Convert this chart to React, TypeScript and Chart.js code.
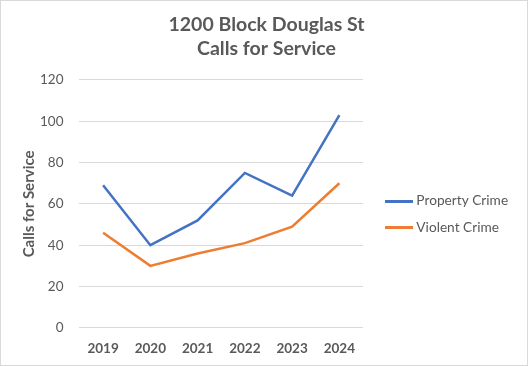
import React, { useEffect, useRef } from "react";
import { Chart, registerables } from "chart.js";

Chart.register(...registerables);

const categories = ["2019", "2020", "2021", "2022", "2023", "2024"];
const propertyCrime = [69, 40, 52, 75, 64, 103];
const violentCrime = [46, 30, 36, 41, 49, 70];
const titleLines = ["1200 Block Douglas St", "Calls for Service"];
const yTitle = "Calls for Service";

const FONT = "Lato, 'Open Sans', sans-serif";
const TEXT = "#595959";
const LEGEND_PAD = 13;
const LEGEND_FONT = 13.7;
const LEGEND_W = 150;
const BOX_W = 21;
const SAMPLE_W = 28;

function lineSample(color: string) {
  const c = document.createElement("canvas");
  c.width = SAMPLE_W;
  c.height = 3;
  const g = c.getContext("2d")!;
  g.fillStyle = color;
  g.fillRect(0, 0, SAMPLE_W, 3);
  return c;
}

// give the legend a fixed width and set it beside the plot as in the original
const legendPlace = {
  id: "legendPlace",
  beforeLayout(chart: any) {
    const lg = chart.legend;
    if (lg && !lg.__patched) {
      const orig = lg.fit;
      lg.fit = function (this: any) {
        this.maxWidth = 1000;
        orig.call(this);
        this.width = LEGEND_W;
      };
      lg.__patched = true;
    }
  },
  afterUpdate(chart: any) {
    const lg = chart.legend;
    if (!lg) return;
    const colH = lg.columnSizes && lg.columnSizes[0] ? lg.columnSizes[0].height : 54;
    const start = (lg.top + LEGEND_PAD + (lg.bottom - colH)) / 2;
    const dy = 201 - LEGEND_FONT / 2 - start;
    lg.top += dy;
    lg.bottom += dy;
    const itemX = 385 + (SAMPLE_W - BOX_W) / 2;
    const dx = itemX - LEGEND_PAD - lg.left;
    lg.left += dx;
    lg.right += dx;
  },
};

export default function App() {
  const ref = useRef<HTMLCanvasElement | null>(null);
  useEffect(() => {
    document.body.style.margin = "0";
    let chart: Chart | null = null;
    let cancelled = false;
    const make = () => {
      if (cancelled || !ref.current) return;
      chart = new Chart(ref.current, {
        type: "line",
        data: {
          labels: categories,
          datasets: [
            {
              label: "Property Crime",
              data: propertyCrime,
              borderColor: "#4472C4",
              backgroundColor: "#4472C4",
              borderWidth: 2.5,
              pointRadius: 0,
              tension: 0,
            },
            {
              label: "Violent Crime",
              data: violentCrime,
              borderColor: "#ED7D31",
              backgroundColor: "#ED7D31",
              borderWidth: 2.5,
              pointRadius: 0,
              tension: 0,
            },
          ],
        },
        options: {
          animation: false,
          responsive: false,
          layout: { padding: { left: 20, right: 15, top: 13, bottom: 4 } },
          plugins: {
            title: {
              display: true,
              text: titleLines,
              color: TEXT,
              font: { family: FONT, size: 19.5, weight: "bold", lineHeight: 1.22 },
              padding: { top: 0, bottom: 19.4 },
            },
            legend: {
              position: "right",
              align: "center",
              labels: {
                color: TEXT,
                font: { family: FONT, size: LEGEND_FONT },
                usePointStyle: true,
                pointStyleWidth: BOX_W,
                boxHeight: 3,
                padding: LEGEND_PAD,
                generateLabels: (c: any) =>
                  c.data.datasets.map((d: any, i: number) => ({
                    text: d.label,
                    fillStyle: d.borderColor,
                    strokeStyle: d.borderColor,
                    lineWidth: 0,
                    pointStyle: lineSample(d.borderColor),
                    fontColor: TEXT,
                    datasetIndex: i,
                    hidden: false,
                  })),
              },
            },
            tooltip: { enabled: false },
          },
          scales: {
            x: {
              offset: true,
              grid: { display: false },
              border: { display: false },
              ticks: {
                color: TEXT,
                font: { family: FONT, size: 13.5, weight: "bold" },
                padding: 5,
              },
            },
            y: {
              min: 0,
              max: 120,
              grid: { color: "#d9d9d9", drawTicks: false },
              border: { display: false },
              ticks: {
                stepSize: 20,
                color: TEXT,
                font: { family: FONT, size: 13.5 },
                padding: 16,
              },
              title: {
                display: true,
                text: yTitle,
                color: TEXT,
                font: { family: FONT, size: 15, weight: "bold" },
                padding: { top: 0, bottom: -14 },
              },
            },
          },
        },
        plugins: [legendPlace],
      } as any);
    };
    const fonts: any = (document as any).fonts;
    if (fonts && fonts.load) {
      Promise.all([
        fonts.load("bold 19px Lato"),
        fonts.load("14px Lato"),
        fonts.load("bold 13px Lato"),
      ])
        .catch(() => null)
        .then(make);
    } else {
      make();
    }
    return () => {
      cancelled = true;
      if (chart) chart.destroy();
    };
  }, []);
  return (
    <div style={{ position: "absolute", left: 0, top: 0, width: 528, height: 366, background: "#fff" }}>
      <canvas ref={ref} width={528} height={366} style={{ display: "block" }} />
      <div
        style={{
          position: "absolute",
          left: 0,
          top: 0,
          width: 528,
          height: 366,
          boxSizing: "border-box",
          border: "1px solid #d9d9d9",
          pointerEvents: "none",
        }}
      />
    </div>
  );
}
